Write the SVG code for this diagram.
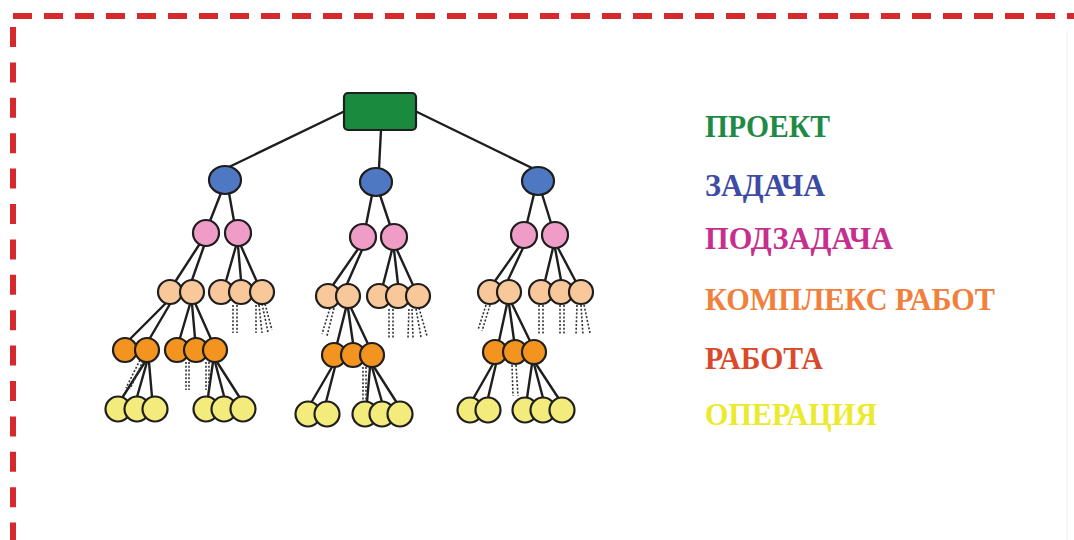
<svg xmlns="http://www.w3.org/2000/svg" width="1074" height="540" viewBox="0 0 1074 540">
  <style>
    .frame-h { stroke: #d42a2e; stroke-width: 6; stroke-dasharray: 19 12; fill: none; }
    .frame-v { stroke: #d42a2e; stroke-width: 6; stroke-dasharray: 20 15.4; fill: none; }
    .edge { stroke: #1e1e1e; stroke-width: 2.4; stroke-linecap: round; fill: none; }
    .stub { stroke: #333; stroke-width: 1.6; stroke-dasharray: 2 1.8; fill: none; }
    .n { stroke: #1e1e1e; stroke-width: 2.2; }
    .project { fill: #1a8a3e; }
    .task { fill: #4e78c2; }
    .subtask { fill: #ef9cc6; }
    .package { fill: #f8c89b; }
    .work { fill: #f39320; }
    .operation { fill: #f3ec7c; }
    .legend { font-family: "Liberation Serif", "Times New Roman", serif; font-weight: bold; font-size: 32px; }
  </style>

  <rect width="1074" height="540" fill="#ffffff"/>

  <!-- dashed frame: top and left edges -->
  <g id="frame">
    <line class="frame-h" x1="13" y1="16" x2="1074" y2="16"/>
    <line class="frame-v" x1="13" y1="27" x2="13" y2="540"/>
    <line x1="1067" y1="30" x2="1067" y2="540" stroke="#f2f2f2" stroke-width="1"/>
  </g>

  <!-- connectors -->
  <g id="connectors">
    <!-- project to tasks -->
    <line class="edge" x1="345" y1="111" x2="229" y2="167"/>
    <line class="edge" x1="381" y1="130" x2="379" y2="168"/>
    <line class="edge" x1="415" y1="111" x2="532" y2="168"/>
    <!-- tasks to subtasks -->
    <line class="edge" x1="221" y1="193" x2="210" y2="221"/>
    <line class="edge" x1="229" y1="193" x2="234" y2="221"/>
    <line class="edge" x1="372" y1="195" x2="366" y2="225"/>
    <line class="edge" x1="380" y1="195" x2="390" y2="225"/>
    <line class="edge" x1="534" y1="194" x2="527" y2="223"/>
    <line class="edge" x1="542" y1="194" x2="551" y2="223"/>
    <!-- subtasks to work packages -->
    <line class="edge" x1="199" y1="245" x2="175" y2="282"/>
    <line class="edge" x1="204" y1="246" x2="192" y2="280"/>
    <line class="edge" x1="236" y1="246" x2="226" y2="281"/>
    <line class="edge" x1="238" y1="246" x2="241" y2="280"/>
    <line class="edge" x1="241" y1="246" x2="257" y2="282"/>
    <line class="edge" x1="358" y1="249" x2="333" y2="285"/>
    <line class="edge" x1="362" y1="250" x2="347" y2="284"/>
    <line class="edge" x1="392" y1="250" x2="383" y2="285"/>
    <line class="edge" x1="394" y1="250" x2="398" y2="284"/>
    <line class="edge" x1="397" y1="250" x2="413" y2="285"/>
    <line class="edge" x1="519" y1="247" x2="495" y2="281"/>
    <line class="edge" x1="523" y1="248" x2="508" y2="280"/>
    <line class="edge" x1="553" y1="248" x2="545" y2="281"/>
    <line class="edge" x1="555" y1="248" x2="561" y2="280"/>
    <line class="edge" x1="558" y1="248" x2="576" y2="282"/>
    <!-- work packages to works -->
    <line class="edge" x1="166" y1="303" x2="130" y2="339"/>
    <line class="edge" x1="170" y1="304" x2="150" y2="338"/>
    <line class="edge" x1="190" y1="304" x2="180" y2="338"/>
    <line class="edge" x1="192" y1="304" x2="195" y2="338"/>
    <line class="edge" x1="195" y1="303" x2="211" y2="339"/>
    <line class="edge" x1="346" y1="308" x2="337" y2="344"/>
    <line class="edge" x1="348" y1="308" x2="353" y2="343"/>
    <line class="edge" x1="351" y1="308" x2="368" y2="344"/>
    <line class="edge" x1="507" y1="304" x2="499" y2="341"/>
    <line class="edge" x1="509" y1="304" x2="514" y2="340"/>
    <line class="edge" x1="512" y1="304" x2="530" y2="341"/>
    <!-- works to operations -->
    <line class="edge" x1="145" y1="362" x2="122" y2="398"/>
    <line class="edge" x1="147" y1="362" x2="137" y2="397"/>
    <line class="edge" x1="149" y1="362" x2="152" y2="397"/>
    <line class="edge" x1="213" y1="362" x2="208" y2="397"/>
    <line class="edge" x1="215" y1="362" x2="224" y2="396"/>
    <line class="edge" x1="217" y1="362" x2="240" y2="398"/>
    <line class="edge" x1="332" y1="367" x2="311" y2="403"/>
    <line class="edge" x1="335" y1="367" x2="326" y2="402"/>
    <line class="edge" x1="370" y1="367" x2="367" y2="402"/>
    <line class="edge" x1="372" y1="367" x2="382" y2="402"/>
    <line class="edge" x1="374" y1="367" x2="397" y2="403"/>
    <line class="edge" x1="493" y1="364" x2="473" y2="399"/>
    <line class="edge" x1="496" y1="364" x2="488" y2="398"/>
    <line class="edge" x1="532" y1="364" x2="527" y2="398"/>
    <line class="edge" x1="534" y1="364" x2="543" y2="398"/>
    <line class="edge" x1="536" y1="364" x2="559" y2="399"/>

    <!-- dashed stubs: further children not drawn -->
    <line class="stub" x1="233" y1="305" x2="233" y2="333"/>
    <line class="stub" x1="237" y1="305" x2="237" y2="333"/>
    <line class="stub" x1="256" y1="305" x2="256" y2="333"/>
    <line class="stub" x1="259" y1="305" x2="262" y2="333"/>
    <line class="stub" x1="262" y1="304" x2="268" y2="332"/>
    <line class="stub" x1="265" y1="304" x2="272" y2="330"/>
    <line class="stub" x1="140" y1="360" x2="126" y2="388"/>
    <line class="stub" x1="143" y1="361" x2="130" y2="389"/>
    <line class="stub" x1="186" y1="362" x2="186" y2="390"/>
    <line class="stub" x1="189" y1="362" x2="189" y2="390"/>
    <line class="stub" x1="206" y1="362" x2="206" y2="390"/>
    <line class="stub" x1="209" y1="362" x2="209" y2="390"/>
    <line class="stub" x1="330" y1="308" x2="322" y2="334"/>
    <line class="stub" x1="334" y1="308" x2="327" y2="336"/>
    <line class="stub" x1="389" y1="309" x2="389" y2="338"/>
    <line class="stub" x1="393" y1="309" x2="393" y2="338"/>
    <line class="stub" x1="409" y1="309" x2="408" y2="338"/>
    <line class="stub" x1="412" y1="309" x2="413" y2="338"/>
    <line class="stub" x1="416" y1="309" x2="421" y2="337"/>
    <line class="stub" x1="419" y1="308" x2="427" y2="336"/>
    <line class="stub" x1="363" y1="367" x2="363" y2="400"/>
    <line class="stub" x1="366" y1="367" x2="366" y2="400"/>
    <line class="stub" x1="486" y1="305" x2="478" y2="330"/>
    <line class="stub" x1="490" y1="305" x2="482" y2="331"/>
    <line class="stub" x1="539" y1="305" x2="539" y2="334"/>
    <line class="stub" x1="543" y1="305" x2="543" y2="334"/>
    <line class="stub" x1="560" y1="305" x2="560" y2="334"/>
    <line class="stub" x1="564" y1="305" x2="564" y2="334"/>
    <line class="stub" x1="577" y1="305" x2="576" y2="335"/>
    <line class="stub" x1="581" y1="305" x2="583" y2="335"/>
    <line class="stub" x1="584" y1="305" x2="590" y2="333"/>
    <line class="stub" x1="512" y1="365" x2="513" y2="396"/>
    <line class="stub" x1="516" y1="365" x2="518" y2="396"/>
  </g>

  <!-- project -->
  <g id="project"><rect class="n project" x="344" y="93" width="72" height="37" rx="4"/></g>

  <!-- tasks -->
  <g id="task-1"><ellipse class="n task" cx="225" cy="180" rx="16" ry="14"/></g>
  <g id="task-2"><ellipse class="n task" cx="376" cy="182" rx="16" ry="14"/></g>
  <g id="task-3"><ellipse class="n task" cx="538" cy="181" rx="16" ry="14"/></g>

  <!-- subtasks -->
  <g id="subtask-1-1"><circle class="n subtask" cx="206" cy="233" r="13"/></g>
  <g id="subtask-1-2"><circle class="n subtask" cx="238" cy="233" r="13"/></g>
  <g id="subtask-2-1"><circle class="n subtask" cx="363" cy="237" r="13"/></g>
  <g id="subtask-2-2"><circle class="n subtask" cx="394" cy="237" r="13"/></g>
  <g id="subtask-3-1"><circle class="n subtask" cx="524" cy="235" r="13"/></g>
  <g id="subtask-3-2"><circle class="n subtask" cx="555" cy="235" r="13"/></g>

  <!-- work packages -->
  <g id="package-1-1"><circle class="n package" cx="170" cy="292" r="12"/></g>
  <g id="package-1-2"><circle class="n package" cx="192" cy="292" r="12"/></g>
  <g id="package-1-3"><circle class="n package" cx="221" cy="292" r="12"/></g>
  <g id="package-1-4"><circle class="n package" cx="241" cy="292" r="12"/></g>
  <g id="package-1-5"><circle class="n package" cx="262" cy="292" r="12"/></g>
  <g id="package-2-1"><circle class="n package" cx="328" cy="296" r="12"/></g>
  <g id="package-2-2"><circle class="n package" cx="348" cy="296" r="12"/></g>
  <g id="package-2-3"><circle class="n package" cx="379" cy="296" r="12"/></g>
  <g id="package-2-4"><circle class="n package" cx="398" cy="296" r="12"/></g>
  <g id="package-2-5"><circle class="n package" cx="418" cy="296" r="12"/></g>
  <g id="package-3-1"><circle class="n package" cx="490" cy="292" r="12"/></g>
  <g id="package-3-2"><circle class="n package" cx="509" cy="292" r="12"/></g>
  <g id="package-3-3"><circle class="n package" cx="541" cy="292" r="12"/></g>
  <g id="package-3-4"><circle class="n package" cx="561" cy="292" r="12"/></g>
  <g id="package-3-5"><circle class="n package" cx="581" cy="292" r="12"/></g>

  <!-- works -->
  <g id="work-1-1"><circle class="n work" cx="125" cy="350" r="12"/></g>
  <g id="work-1-2"><circle class="n work" cx="147" cy="350" r="12"/></g>
  <g id="work-1-3"><circle class="n work" cx="177" cy="350" r="12"/></g>
  <g id="work-1-4"><circle class="n work" cx="196" cy="350" r="12"/></g>
  <g id="work-1-5"><circle class="n work" cx="215" cy="350" r="12"/></g>
  <g id="work-2-1"><circle class="n work" cx="334" cy="355" r="12"/></g>
  <g id="work-2-2"><circle class="n work" cx="353" cy="355" r="12"/></g>
  <g id="work-2-3"><circle class="n work" cx="372" cy="355" r="12"/></g>
  <g id="work-3-1"><circle class="n work" cx="495" cy="352" r="12"/></g>
  <g id="work-3-2"><circle class="n work" cx="515" cy="352" r="12"/></g>
  <g id="work-3-3"><circle class="n work" cx="534" cy="352" r="12"/></g>

  <!-- operations -->
  <g id="op-1-1"><circle class="n operation" cx="118" cy="409" r="12.5"/></g>
  <g id="op-1-2"><circle class="n operation" cx="137" cy="409" r="12.5"/></g>
  <g id="op-1-3"><circle class="n operation" cx="155" cy="409" r="12.5"/></g>
  <g id="op-1-4"><circle class="n operation" cx="206" cy="409" r="12.5"/></g>
  <g id="op-1-5"><circle class="n operation" cx="224" cy="409" r="12.5"/></g>
  <g id="op-1-6"><circle class="n operation" cx="243" cy="409" r="12.5"/></g>
  <g id="op-2-1"><circle class="n operation" cx="308" cy="414" r="12.5"/></g>
  <g id="op-2-2"><circle class="n operation" cx="327" cy="414" r="12.5"/></g>
  <g id="op-2-3"><circle class="n operation" cx="365" cy="414" r="12.5"/></g>
  <g id="op-2-4"><circle class="n operation" cx="382" cy="414" r="12.5"/></g>
  <g id="op-2-5"><circle class="n operation" cx="400" cy="414" r="12.5"/></g>
  <g id="op-3-1"><circle class="n operation" cx="470" cy="410" r="12.5"/></g>
  <g id="op-3-2"><circle class="n operation" cx="488" cy="410" r="12.5"/></g>
  <g id="op-3-3"><circle class="n operation" cx="525" cy="410" r="12.5"/></g>
  <g id="op-3-4"><circle class="n operation" cx="543" cy="410" r="12.5"/></g>
  <g id="op-3-5"><circle class="n operation" cx="562" cy="410" r="12.5"/></g>

  <!-- legend -->
  <g id="legend">
    <text class="legend" x="705" y="137" fill="#1f8a46" textLength="125" lengthAdjust="spacingAndGlyphs">ПРОЕКТ</text>
    <text class="legend" x="705" y="196" fill="#3d4ba3" textLength="120" lengthAdjust="spacingAndGlyphs">ЗАДАЧА</text>
    <text class="legend" x="705" y="249" fill="#c62f8e" textLength="188" lengthAdjust="spacingAndGlyphs">ПОДЗАДАЧА</text>
    <text class="legend" x="705" y="310" fill="#f0803c" textLength="290" lengthAdjust="spacingAndGlyphs">КОМПЛЕКС РАБОТ</text>
    <text class="legend" x="705" y="369" fill="#d94a2a" textLength="118" lengthAdjust="spacingAndGlyphs">РАБОТА</text>
    <text class="legend" x="705" y="425" fill="#ecea2e" textLength="172" lengthAdjust="spacingAndGlyphs">ОПЕРАЦИЯ</text>
  </g>
</svg>
